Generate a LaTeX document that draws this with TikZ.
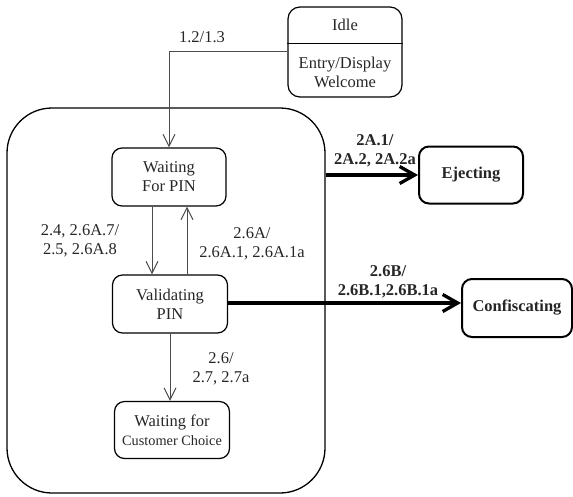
\documentclass[tikz,border=0pt]{standalone}
\usepackage{fontspec}
\setmainfont{Liberation Serif}
\usetikzlibrary{positioning,arrows.meta,calc}

\begin{document}
\begin{tikzpicture}[
    x=1pt, y=-1pt,
    >={Straight Barb[length=12pt, width=12pt]},
    every node/.style={font=\fontsize{16.5}{19}\selectfont, text=black!85},
    state/.style={draw, rounded corners=10pt, align=center, line width=1.2pt,
                  minimum width=114pt, minimum height=58pt, inner sep=2pt},
    endstate/.style={state, line width=2pt, font=\fontsize{16.5}{19}\selectfont\bfseries},
    lbl/.style={align=center, inner sep=1pt},
    blbl/.style={lbl, font=\fontsize{16.5}{19}\selectfont\bfseries},
    trans/.style={->, line width=1pt, draw=black!70},
    heavy/.style={-{Straight Barb[length=15pt, width=17pt]}, line width=3.3pt},
  ]
    \useasboundingbox (0,0) rectangle (573,496);
    % Idle with its entry action
    \node[draw, rounded corners=12pt, line width=1.2pt, minimum width=114pt,
          minimum height=90pt] (idle) at (345,52) {};
    \draw[line width=1pt] (idle.west |- 0,43) -- (idle.east |- 0,43);
    \node[lbl] (idlename) at (345,25) {Idle};
    \node[lbl] (idleact) at (345,72) {Entry/Display\\Welcome};

    % super state
    \node[draw, rounded corners=45pt, line width=1.3pt, minimum width=318pt,
          minimum height=385pt] (auth) at (166,300.5) {};

    \node[state] (wpin) at (169,177) {Waiting\\For PIN};
    \node[state, minimum width=115pt] (vpin) at (170,304) {Validating\\PIN};
    \node[state, minimum width=115pt, minimum height=57pt] (wcc) at (172,430)
         {Waiting for\\{\fontsize{14.3}{16}\selectfont Customer Choice}};
    \node[endstate, minimum width=104pt, minimum height=57pt] (eject) at (471,175) {Ejecting};
    \node[endstate, minimum width=110pt] (confis) at (517,308) {Confiscating};

    \draw[trans] (idle.west |- 0,51) -| (wpin.north);
    \node[lbl] (t1) at (202,37) {1.2/1.3};

    \draw[trans] ([xshift=-17pt]wpin.south) -- ([xshift=-17pt]wpin.south |- vpin.north);
    \draw[trans] ([xshift=17pt]vpin.north) -- ([xshift=17pt]vpin.north |- wpin.south);
    \node[lbl] (t2) at (80,241) {2.4, 2.6A.7/\\2.5, 2.6A.8};
    \node[lbl] (t3) at (252,244) {2.6A/\\2.6A.1, 2.6A.1a};

    \draw[trans] (vpin.south) -- (vpin.south |- wcc.north);
    \node[lbl] (t4) at (221,369) {2.6/\\2.7, 2.7a};

    \draw[heavy] (auth.east |- eject.west) -- (eject.west);
    \node[blbl] (t5) at (375,151) {2A.1/\\2A.2, 2A.2a};

    \draw[heavy] (vpin.east |- 0,303) -- (confis.west |- 0,303);
    \node[blbl] (t6) at (388,282) {2.6B/\\2.6B.1,2.6B.1a};
\end{tikzpicture}
\end{document}
